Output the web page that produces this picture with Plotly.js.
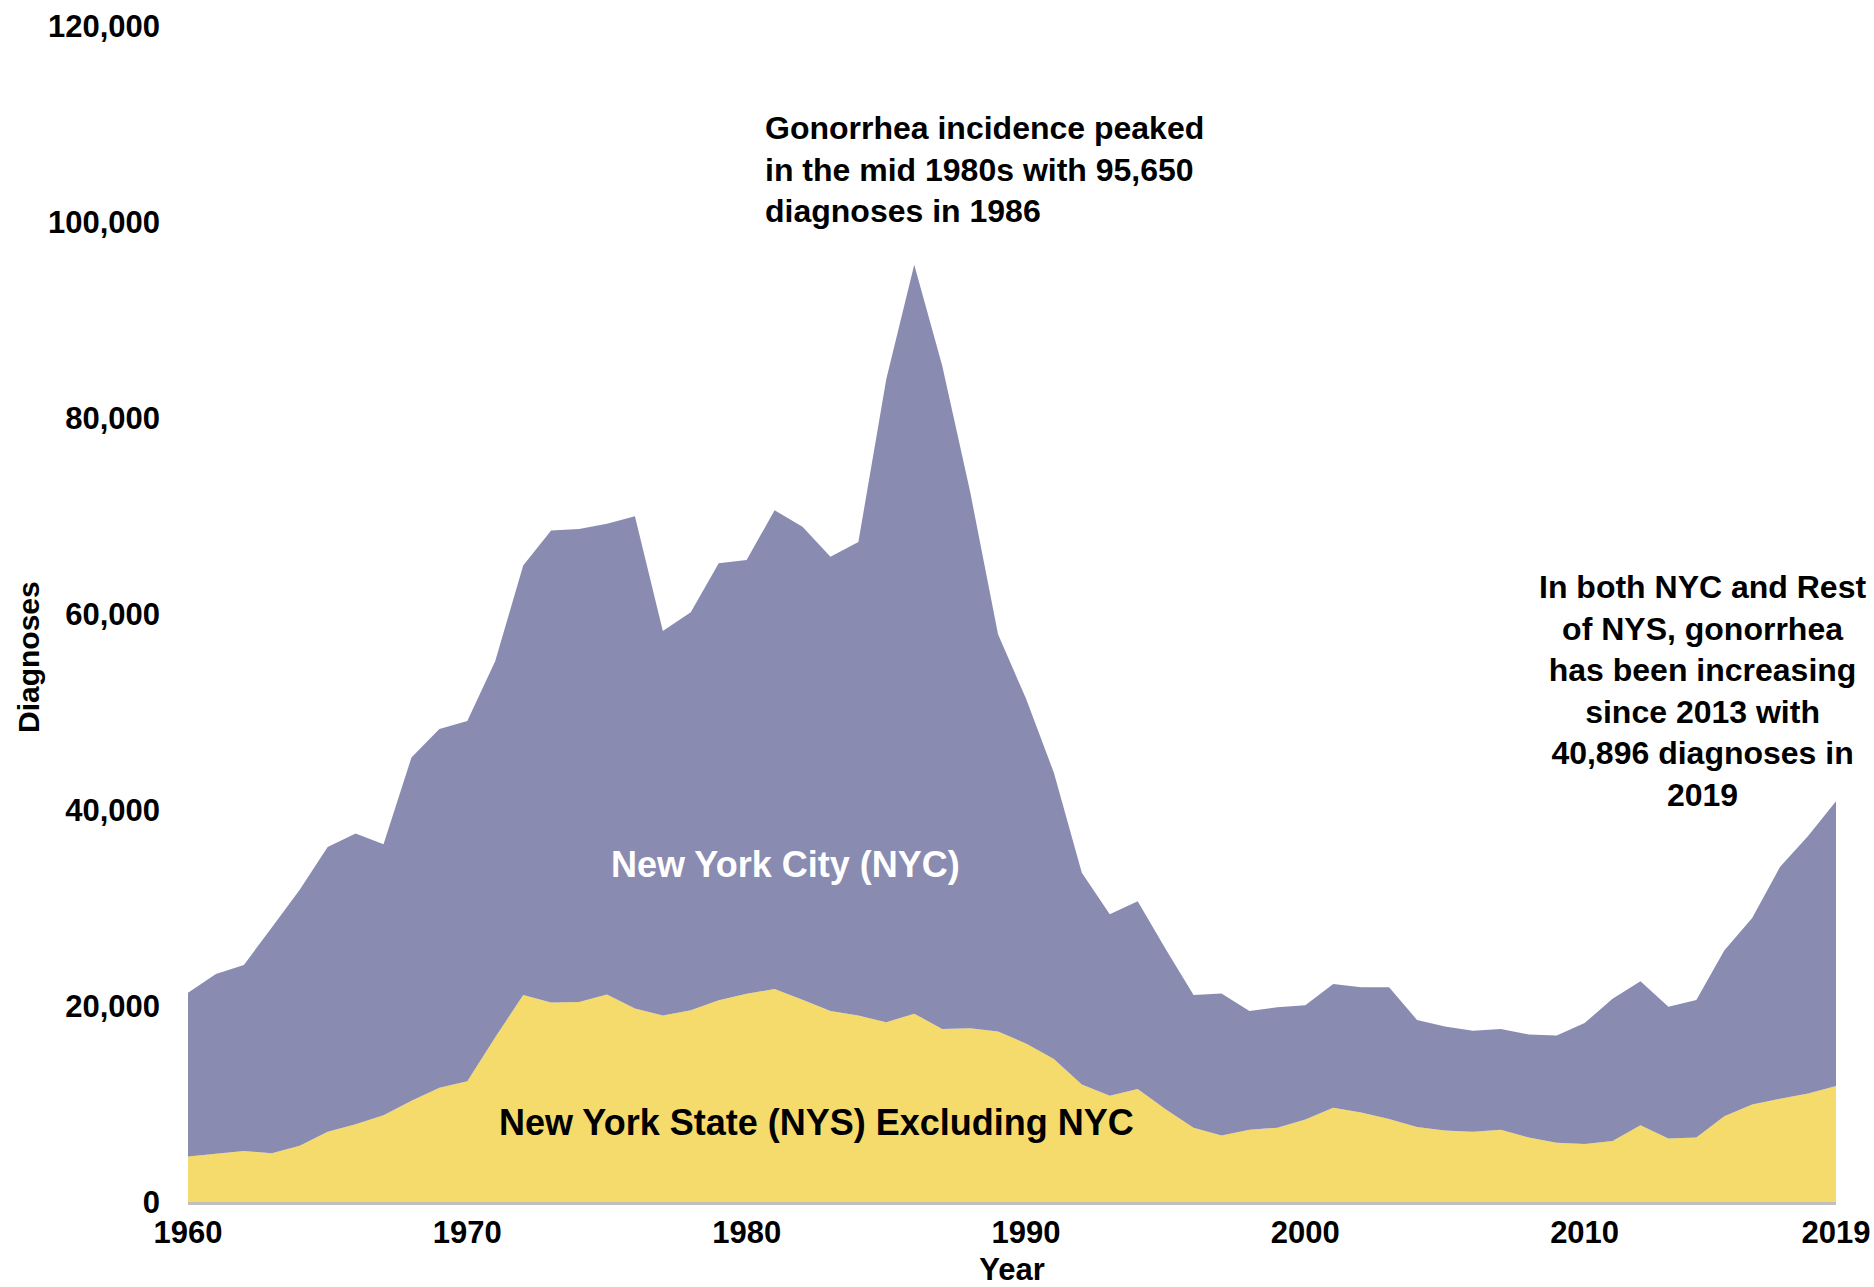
<!DOCTYPE html>
<html>
<head>
<meta charset="utf-8">
<script src="https://cdn.plot.ly/plotly-3.0.1.min.js"></script>
<style>html,body{margin:0;padding:0;background:#fff;}#chart{width:1874px;height:1287px;}</style>
</head>
<body>
<div id="chart"></div>
<script>
const years = [1960,1961,1962,1963,1964,1965,1966,1967,1968,1969,
  1970,1971,1972,1973,1974,1975,1976,1977,1978,1979,
  1980,1981,1982,1983,1984,1985,1986,1987,1988,1989,
  1990,1991,1992,1993,1994,1995,1996,1997,1998,1999,
  2000,2001,2002,2003,2004,2005,2006,2007,2008,2009,
  2010,2011,2012,2013,2014,2015,2016,2017,2018,2019];

const nysExclNyc = [4650,4930,5200,4980,5750,7170,7930,8860,10340,11650,
  12310,16800,21120,20360,20410,21180,19750,19020,19560,20580,
  21250,21730,20640,19490,19020,18340,19220,17660,17730,17390,
  16180,14600,12000,10830,11540,9460,7580,6790,7370,7580,
  8410,9620,9120,8460,7660,7290,7160,7360,6580,6050,
  5910,6230,7840,6490,6580,8740,9950,10540,11080,11840];

const nyc = [16690,18330,18990,23040,26100,29050,29660,27640,35020,36610,
  36770,38410,43830,48150,48260,48040,50230,39250,40610,44600,
  44260,48860,48260,46360,48320,65650,76430,67690,54760,40540,
  35190,29200,21590,18530,19160,16360,13540,14490,12120,12290,
  11670,12620,12790,13450,10920,10620,10310,10290,10510,10950,
  12350,14500,14690,13430,14020,16930,19040,23660,26270,29056];

const xTicks = [1960,1970,1980,1990,2000,2010,2019];
const yTicks = [0,20000,40000,60000,80000,100000,120000];

const FONT = '"Liberation Sans", Arial, sans-serif';

const traces = [
  {x: years, y: nysExclNyc, name: 'New York State (NYS) Excluding NYC', type: 'scatter', mode: 'none',
   stackgroup: 'one', fillcolor: '#F5DB6C', line: {width: 0}},
  {x: years, y: nyc, name: 'New York City (NYC)', type: 'scatter', mode: 'none',
   stackgroup: 'one', fillcolor: '#8A8BB1', line: {width: 0}}
];

const layout = {
  width: 1874, height: 1287,
  margin: {l: 188, r: 38, t: 26, b: 85, pad: 0},
  paper_bgcolor: '#ffffff', plot_bgcolor: '#ffffff',
  showlegend: false, hovermode: false,
  font: {family: FONT, color: '#000000', size: 31, weight: 'bold'},
  xaxis: {
    range: [1960, 2019], tickvals: xTicks, ticktext: xTicks.map(String),
    showgrid: false, zeroline: false, showline: true, linecolor: '#BFBFBF', linewidth: 3,
    ticks: '', ticklabelstandoff: 1,
    tickfont: {family: FONT, size: 31, color: '#000', weight: 'bold'},
    title: {text: 'Year', font: {family: FONT, size: 31, color: '#000', weight: 'bold'}, standoff: 20},
    automargin: false
  },
  yaxis: {
    range: [0, 120000], tickvals: yTicks, tickformat: ',',
    showgrid: false, zeroline: false, showline: false, ticks: '',
    ticklabelstandoff: 27,
    tickfont: {family: FONT, size: 31, color: '#000', weight: 'bold'},
    automargin: false
  },
  annotations: [
    {xref: 'paper', yref: 'paper', x: -0.0971, y: 0.4634, xanchor: 'center', yanchor: 'middle', textangle: -90,
     showarrow: false, text: 'Diagnoses',
     font: {family: FONT, size: 30, color: '#000', weight: 'bold'}},
    {xref: 'paper', yref: 'paper', x: 0.3489, y: 0.8776, xanchor: 'left', yanchor: 'middle', align: 'left',
     showarrow: false, text: 'Gonorrhea incidence peaked<br>in the mid 1980s with 95,650<br>diagnoses in 1986',
     font: {family: FONT, size: 32, color: '#000', weight: 'bold'}},
    {xref: 'paper', yref: 'paper', x: 0.9187, y: 0.4341, xanchor: 'center', yanchor: 'middle', align: 'center',
     showarrow: false, text: 'In both NYC and Rest<br>of NYS, gonorrhea<br>has been increasing<br>since 2013 with<br>40,896 diagnoses in<br>2019',
     font: {family: FONT, size: 32, color: '#000', weight: 'bold'}},
    {xref: 'paper', yref: 'paper', x: 0.3623, y: 0.2866, xanchor: 'center', yanchor: 'middle',
     showarrow: false, text: 'New York City (NYC)',
     font: {family: FONT, size: 36, color: '#ffffff', weight: 'bold'}},
    {xref: 'paper', yref: 'paper', x: 0.3811, y: 0.0672, xanchor: 'center', yanchor: 'middle',
     showarrow: false, text: 'New York State (NYS) Excluding NYC',
     font: {family: FONT, size: 36, color: '#000000', weight: 'bold'}}
  ]
};

Plotly.newPlot('chart', traces, layout, {displayModeBar: false, staticPlot: true});
</script>
</body>
</html>
